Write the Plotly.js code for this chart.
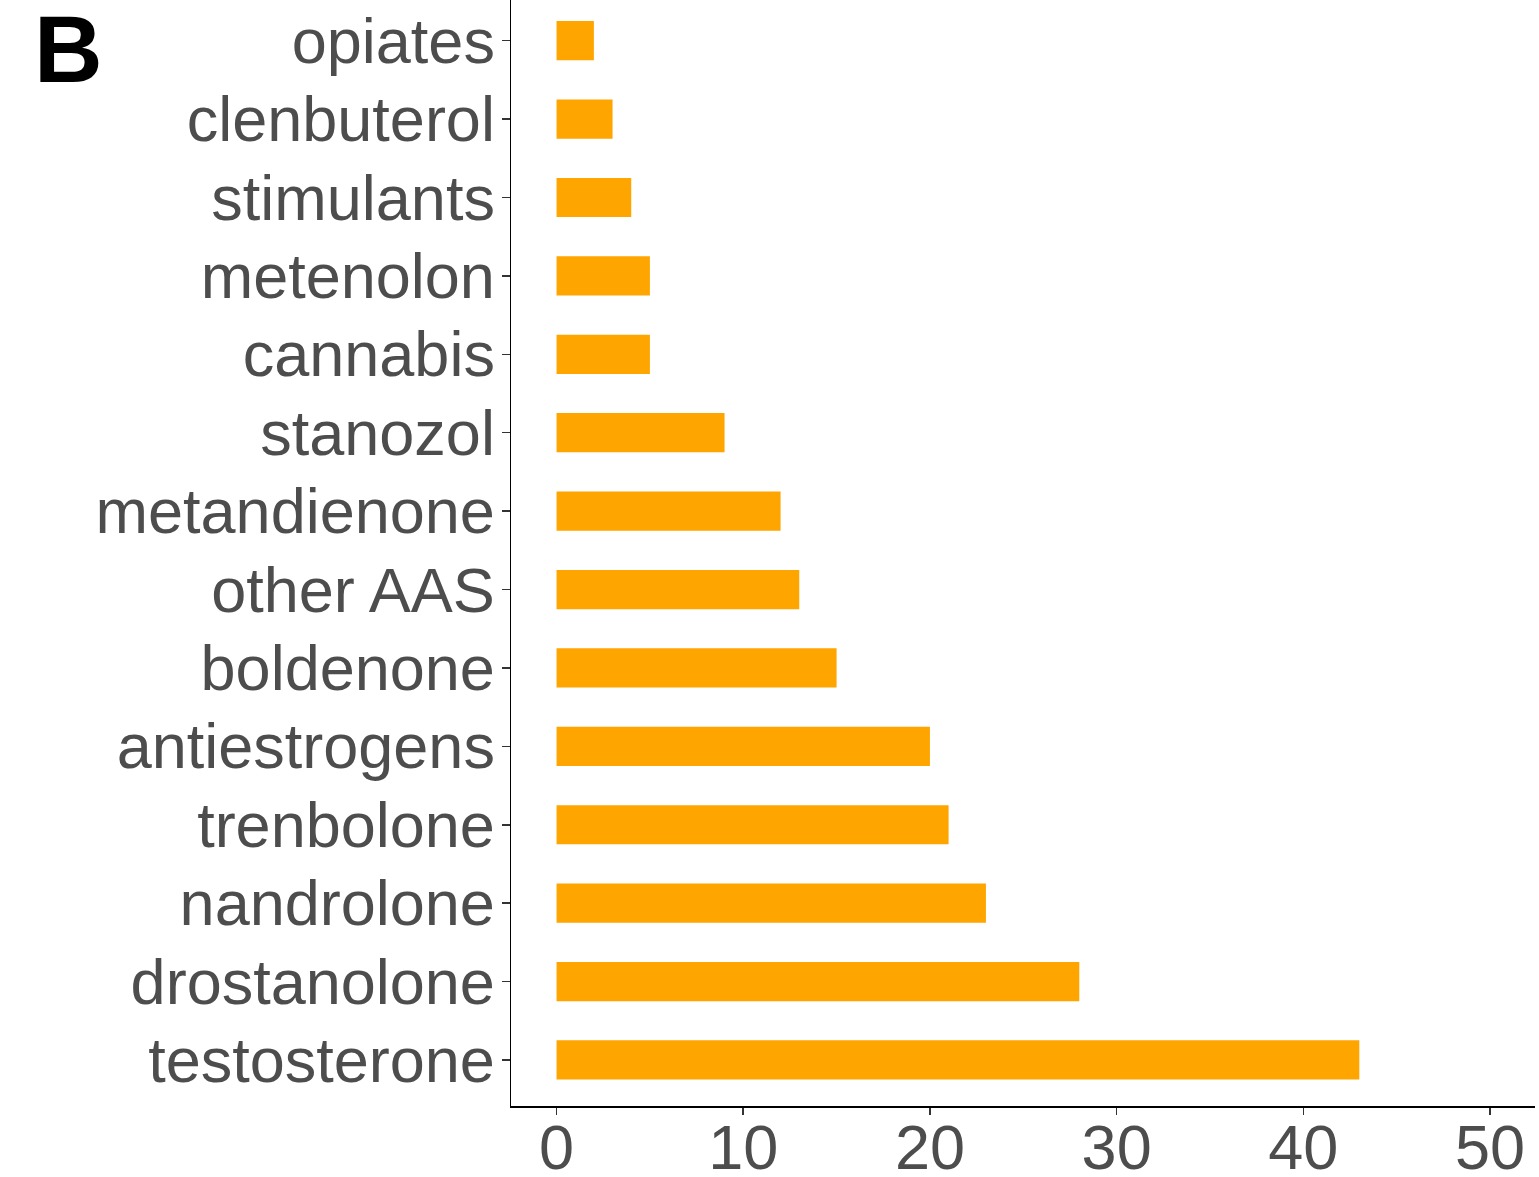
<!DOCTYPE html>
<html>
<head>
<meta charset="utf-8">
<script src="https://cdn.plot.ly/plotly-3.0.1.min.js"></script>
<style>
html,body{margin:0;padding:0;background:#fff;}
#chart{width:1539px;height:1177px;}
</style>
</head>
<body>
<div id="chart"></div>
<script>
// Data (top to bottom)
var substances = ["opiates","clenbuterol","stimulants","metenolon","cannabis","stanozol","metandienone","other AAS","boldenone","antiestrogens","trenbolone","nandrolone","drostanolone","testosterone"];
var counts = [2,3,4,5,5,9,12,13,15,20,21,23,28,43];
var xTicks = [0,10,20,30,40,50];
var panelLabel = "B";

var trace = {
  type: "bar",
  orientation: "h",
  y: substances,
  x: counts,
  width: 0.5,
  marker: {color: "#FFA500", line: {width: 0}},
  hoverinfo: "x+y"
};

var layout = {
  width: 1539,
  height: 1177,
  margin: {l: 511, r: 4, t: 0, b: 71, pad: 0},
  paper_bgcolor: "#ffffff",
  plot_bgcolor: "#ffffff",
  showlegend: false,
  font: {family: "Liberation Sans, Arial, sans-serif", color: "#4D4D4D"},
  xaxis: {
    range: [-2.44, 52.41],
    tickvals: xTicks,
    ticktext: xTicks.map(String),
    showgrid: false,
    zeroline: false,
    showline: true,
    linecolor: "#000000",
    linewidth: 1.5,
    ticks: "outside",
    ticklen: 7,
    tickwidth: 1.5,
    tickcolor: "#333333",
    ticklabelstandoff: -21,
    tickfont: {size: 63, color: "#4D4D4D", family: "Liberation Sans, Arial, sans-serif"}
  },
  yaxis: {
    type: "category",
    categoryorder: "array",
    categoryarray: substances,
    range: [13.587, -0.519],
    showgrid: false,
    zeroline: false,
    showline: true,
    linecolor: "#000000",
    linewidth: 1.5,
    ticks: "outside",
    ticklen: 8,
    tickwidth: 1.5,
    tickcolor: "#333333",
    ticklabelstandoff: -6,
    tickfont: {size: 63, color: "#4D4D4D", family: "Liberation Sans, Arial, sans-serif"}
  },
  annotations: [{
    text: "<b>" + panelLabel + "</b>",
    xref: "paper", yref: "paper",
    x: -0.4678, y: 0.956,
    xanchor: "left", yanchor: "middle",
    showarrow: false,
    font: {size: 95, color: "#000000", family: "Liberation Sans, Arial, sans-serif"}
  }]
};

Plotly.newPlot("chart", [trace], layout, {displayModeBar: false, staticPlot: true});
</script>
</body>
</html>
